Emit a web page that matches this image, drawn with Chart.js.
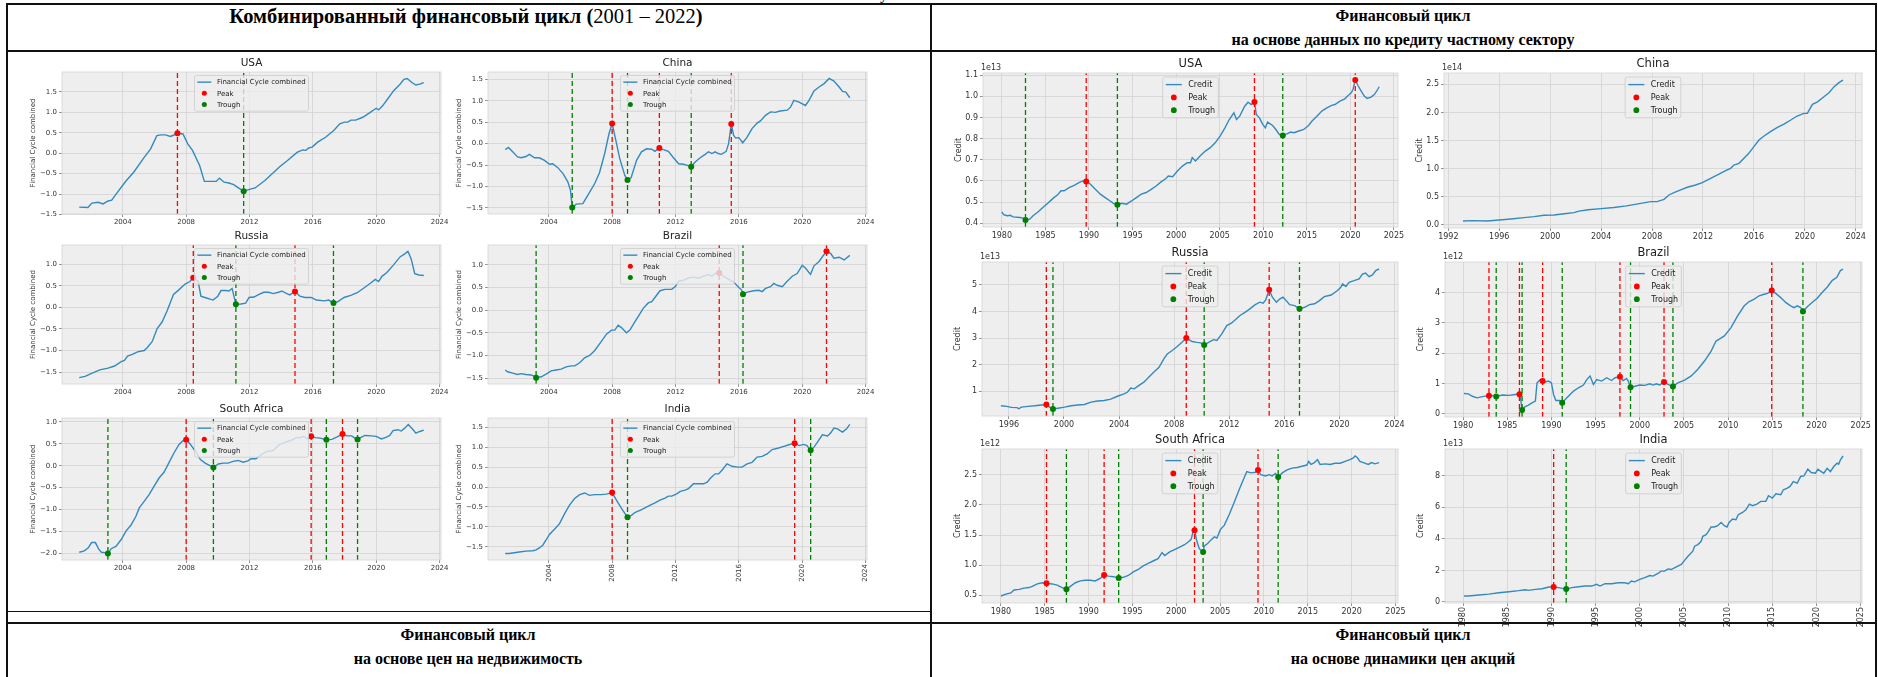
<!DOCTYPE html>
<html>
<head>
<meta charset="utf-8">
<script src="https://cdn.jsdelivr.net/npm/chart.js@4.4.1/dist/chart.umd.min.js"></script>
<style>
  body { margin: 0; background: #fff; }
  #page { position: relative; width: 1878px; height: 677px; overflow: hidden; font-family: "Liberation Serif", "Times New Roman", serif; }
  .hl { position: absolute; background: #111; height: 2px; z-index: 5; }
  .vl { position: absolute; background: #111; width: 2px; z-index: 5; }
  .hdr { position: absolute; font-weight: bold; font-size: 16px; white-space: nowrap; transform: translate(-50%, -50%); color: #000; }
  .hdr span { font-weight: normal; }
  .big { font-size: 20.5px; }
  canvas { position: absolute; }
</style>
</head>
<body>
<div id="page">
  <div class="hdr" style="left:884px;top:-6px;font-weight:normal">у</div>
  <div class="hl" style="left:6px;top:3px;width:1871px"></div>
  <div class="hl" style="left:6px;top:50px;width:1871px"></div>
  <div class="hl" style="left:6px;top:622px;width:1871px"></div>
  <div class="hl" style="left:6px;top:611px;width:924px;height:1px"></div>
  <div class="vl" style="left:6px;top:3px;height:674px"></div>
  <div class="vl" style="left:930px;top:3px;height:674px"></div>
  <div class="vl" style="left:1875px;top:3px;height:674px"></div>

  <div class="hdr big" style="left:466px;top:16px">Комбинированный финансовый цикл (<span>2001 – 2022</span>)</div>
  <div class="hdr" style="left:1403px;top:16px">Финансовый цикл</div>
  <div class="hdr" style="left:1403px;top:40px">на основе данных по кредиту частному сектору</div>
  <div class="hdr" style="left:468px;top:635px">Финансовый цикл</div>
  <div class="hdr" style="left:468px;top:659px">на основе цен на недвижимость</div>
  <div class="hdr" style="left:1403px;top:635px">Финансовый цикл</div>
  <div class="hdr" style="left:1403px;top:659px">на основе динамики цен акций</div>
</div>

<script>
// ---------- data: combined financial cycle (2001 - 2022) ----------
const fcYearTicks = [2004, 2008, 2012, 2016, 2020, 2024];

const usaFc = [[2001.25,-1.32],[2001.8,-1.33],[2002.05,-1.22],[2002.45,-1.2],[2002.76,-1.24],[2003.07,-1.17],[2003.3,-1.15],[2003.6,-0.99],[2004.2,-0.68],[2004.7,-0.46],[2005.35,-0.1],[2005.75,0.1],[2006.15,0.43],[2006.4,0.45],[2006.7,0.45],[2007.0,0.41],[2007.2,0.44],[2007.45,0.49],[2007.8,0.47],[2008.1,0.23],[2008.4,0.07],[2008.85,-0.3],[2009.15,-0.69],[2009.5,-0.69],[2009.9,-0.69],[2010.1,-0.61],[2010.4,-0.71],[2010.7,-0.73],[2011.0,-0.77],[2011.3,-0.85],[2011.63,-0.93],[2011.94,-0.89],[2012.35,-0.85],[2012.97,-0.67],[2013.6,-0.44],[2013.9,-0.33],[2014.4,-0.18],[2015.0,0.02],[2015.35,0.08],[2015.55,0.07],[2015.75,0.13],[2015.95,0.15],[2016.3,0.27],[2016.8,0.39],[2017.3,0.55],[2017.7,0.72],[2018.0,0.76],[2018.2,0.76],[2018.4,0.81],[2018.7,0.81],[2019.15,0.88],[2019.55,0.98],[2020.0,1.1],[2020.15,1.06],[2020.4,1.16],[2020.8,1.37],[2021.1,1.53],[2021.5,1.69],[2021.75,1.81],[2021.95,1.83],[2022.25,1.73],[2022.5,1.67],[2022.75,1.69],[2023.0,1.73]];
const usaFcPeaks = [[2007.45,0.49]];
const usaFcTroughs = [[2011.63,-0.93]];
const usaFcTicksY = [-1.5,-1.0,-0.5,0.0,0.5,1.0,1.5];

const chinaFc = [[2001.25,-0.14],[2001.45,-0.09],[2001.72,-0.19],[2002.03,-0.31],[2002.25,-0.33],[2002.56,-0.3],[2002.77,-0.25],[2003.1,-0.33],[2003.4,-0.33],[2003.73,-0.39],[2004.04,-0.48],[2004.25,-0.47],[2004.57,-0.56],[2004.9,-0.7],[2005.2,-0.89],[2005.37,-1.09],[2005.48,-1.49],[2005.73,-1.41],[2006.15,-1.4],[2006.47,-1.2],[2006.9,-0.93],[2007.2,-0.68],[2007.53,-0.23],[2007.8,0.23],[2008.0,0.47],[2008.23,0.08],[2008.48,-0.35],[2008.8,-0.74],[2008.97,-0.85],[2009.2,-0.79],[2009.54,-0.39],[2009.85,-0.19],[2010.17,-0.12],[2010.5,-0.13],[2010.7,-0.18],[2010.98,-0.1],[2011.23,-0.14],[2011.55,-0.18],[2011.87,-0.33],[2012.2,-0.47],[2012.5,-0.48],[2012.7,-0.5],[2012.99,-0.54],[2013.24,-0.43],[2013.56,-0.33],[2013.87,-0.25],[2014.08,-0.19],[2014.3,-0.23],[2014.5,-0.19],[2014.7,-0.23],[2014.9,-0.25],[2015.2,-0.18],[2015.35,0.0],[2015.52,0.46],[2015.67,0.19],[2015.8,0.13],[2016.0,0.14],[2016.24,0.02],[2016.5,0.14],[2016.83,0.35],[2017.15,0.48],[2017.36,0.53],[2017.68,0.66],[2018.0,0.74],[2018.3,0.73],[2018.6,0.76],[2019.05,0.78],[2019.26,0.85],[2019.47,1.01],[2019.8,0.97],[2020.2,0.89],[2020.43,1.01],[2020.74,1.23],[2021.06,1.32],[2021.38,1.4],[2021.7,1.52],[2022.0,1.46],[2022.33,1.32],[2022.54,1.22],[2022.75,1.2],[2023.0,1.07]];
const chinaFcPeaks = [[2008.0,0.47],[2010.98,-0.1],[2015.52,0.46]];
const chinaFcTroughs = [[2005.48,-1.49],[2008.97,-0.85],[2012.99,-0.54]];
const chinaFcTicksY = [-1.5,-1.0,-0.5,0.0,0.5,1.0,1.5];

const russiaFc = [[2001.25,-1.63],[2001.62,-1.6],[2002.03,-1.53],[2002.55,-1.45],[2003.07,-1.41],[2003.48,-1.36],[2003.9,-1.26],[2004.1,-1.23],[2004.3,-1.13],[2004.6,-1.09],[2004.93,-1.03],[2005.35,-1.0],[2005.55,-0.93],[2005.86,-0.79],[2006.17,-0.49],[2006.48,-0.34],[2006.8,-0.08],[2007.2,0.3],[2007.52,0.4],[2007.93,0.54],[2008.24,0.6],[2008.45,0.69],[2008.76,0.6],[2008.93,0.26],[2009.18,0.23],[2009.7,0.17],[2010.0,0.26],[2010.2,0.39],[2010.5,0.39],[2010.7,0.38],[2010.9,0.44],[2011.14,0.07],[2011.45,0.08],[2011.76,0.1],[2011.97,0.23],[2012.28,0.24],[2012.6,0.3],[2012.9,0.35],[2013.2,0.35],[2013.5,0.32],[2013.83,0.35],[2014.04,0.38],[2014.35,0.32],[2014.55,0.29],[2014.87,0.37],[2015.18,0.26],[2015.5,0.23],[2015.9,0.23],[2016.22,0.17],[2016.73,0.15],[2017.0,0.17],[2017.3,0.1],[2017.56,0.13],[2017.97,0.23],[2018.39,0.28],[2018.8,0.34],[2019.22,0.45],[2019.63,0.56],[2019.94,0.65],[2020.15,0.6],[2020.36,0.72],[2020.67,0.81],[2021.08,0.98],[2021.5,1.17],[2021.8,1.24],[2022.0,1.3],[2022.2,1.13],[2022.43,0.78],[2022.7,0.75],[2023.0,0.74]];
const russiaFcPeaks = [[2008.45,0.69],[2014.87,0.37]];
const russiaFcTroughs = [[2011.14,0.07],[2017.3,0.1]];
const russiaFcTicksY = [-1.5,-1.0,-0.5,0.0,0.5,1.0];

const brazilFc = [[2001.25,-1.32],[2001.4,-1.36],[2001.72,-1.39],[2002.03,-1.42],[2002.25,-1.4],[2002.56,-1.42],[2002.88,-1.43],[2003.1,-1.46],[2003.2,-1.49],[2003.52,-1.47],[2003.83,-1.41],[2004.15,-1.34],[2004.46,-1.32],[2004.78,-1.3],[2005.1,-1.25],[2005.42,-1.23],[2005.64,-1.23],[2005.95,-1.16],[2006.26,-1.05],[2006.58,-1.0],[2006.9,-0.89],[2007.32,-0.69],[2007.64,-0.53],[2007.96,-0.44],[2008.17,-0.44],[2008.38,-0.33],[2008.6,-0.39],[2008.9,-0.5],[2009.12,-0.44],[2009.43,-0.26],[2009.75,-0.08],[2009.96,0.04],[2010.28,0.16],[2010.5,0.19],[2010.7,0.28],[2011.02,0.43],[2011.33,0.46],[2011.76,0.46],[2012.0,0.53],[2012.2,0.64],[2012.5,0.66],[2012.8,0.71],[2013.13,0.73],[2013.45,0.71],[2013.77,0.75],[2014.08,0.79],[2014.3,0.75],[2014.5,0.81],[2014.76,0.82],[2015.03,0.75],[2015.35,0.68],[2015.67,0.62],[2016.0,0.5],[2016.16,0.45],[2016.26,0.35],[2016.52,0.4],[2016.94,0.43],[2017.26,0.44],[2017.47,0.41],[2017.68,0.48],[2018.0,0.52],[2018.2,0.59],[2018.42,0.55],[2018.74,0.52],[2019.05,0.64],[2019.37,0.75],[2019.68,0.81],[2020.0,0.99],[2020.2,0.93],[2020.52,0.79],[2020.74,0.98],[2021.05,1.07],[2021.27,1.18],[2021.53,1.3],[2021.8,1.25],[2022.0,1.15],[2022.33,1.17],[2022.64,1.11],[2023.0,1.21]];
const brazilFcPeaks = [[2014.76,0.82],[2021.53,1.3]];
const brazilFcTroughs = [[2003.2,-1.49],[2016.26,0.35]];
const brazilFcTicksY = [-1.5,-1.0,-0.5,0.0,0.5,1.0];

const saFc = [[2001.25,-1.97],[2001.57,-1.94],[2001.82,-1.87],[2002.03,-1.75],[2002.27,-1.75],[2002.48,-1.9],[2002.65,-1.97],[2002.86,-1.98],[2003.06,-2.0],[2003.27,-1.89],[2003.58,-1.83],[2003.9,-1.68],[2004.2,-1.49],[2004.52,-1.35],[2004.83,-1.15],[2005.04,-0.96],[2005.35,-0.81],[2005.66,-0.66],[2005.97,-0.47],[2006.29,-0.28],[2006.6,-0.15],[2006.9,0.06],[2007.23,0.29],[2007.54,0.48],[2007.8,0.57],[2008.0,0.59],[2008.26,0.49],[2008.58,0.33],[2008.9,0.14],[2009.2,0.06],[2009.5,0.0],[2009.72,-0.04],[2010.03,0.04],[2010.34,0.06],[2010.65,0.06],[2010.96,0.1],[2011.28,0.12],[2011.6,0.08],[2011.9,0.11],[2012.1,0.16],[2012.4,0.16],[2012.73,0.25],[2013.15,0.33],[2013.46,0.34],[2013.88,0.48],[2014.3,0.54],[2014.7,0.59],[2015.0,0.65],[2015.12,0.63],[2015.43,0.67],[2015.64,0.61],[2015.89,0.67],[2016.16,0.64],[2016.47,0.63],[2016.85,0.59],[2017.2,0.6],[2017.5,0.65],[2017.87,0.72],[2018.14,0.68],[2018.45,0.68],[2018.65,0.63],[2018.82,0.6],[2019.07,0.65],[2019.28,0.69],[2019.7,0.68],[2020.0,0.67],[2020.33,0.61],[2020.65,0.65],[2020.85,0.69],[2021.06,0.8],[2021.37,0.82],[2021.57,0.79],[2021.78,0.85],[2022.02,0.94],[2022.3,0.83],[2022.5,0.74],[2022.75,0.78],[2023.0,0.81]];
const saFcPeaks = [[2008.0,0.59],[2015.89,0.67],[2017.87,0.72]];
const saFcTroughs = [[2003.06,-2.0],[2009.72,-0.04],[2016.85,0.59],[2018.82,0.6]];
const saFcTicksY = [-2.0,-1.5,-1.0,-0.5,0.0,0.5,1.0];

const indiaFc = [[2001.25,-1.67],[2001.5,-1.67],[2001.82,-1.65],[2002.14,-1.63],[2002.56,-1.61],[2003.0,-1.6],[2003.2,-1.58],[2003.4,-1.53],[2003.62,-1.46],[2003.83,-1.33],[2004.04,-1.19],[2004.36,-1.06],[2004.68,-0.92],[2005.0,-0.67],[2005.3,-0.46],[2005.63,-0.29],[2005.95,-0.19],[2006.26,-0.15],[2006.58,-0.21],[2006.9,-0.19],[2007.3,-0.19],[2007.64,-0.18],[2008.0,-0.14],[2008.27,-0.33],[2008.6,-0.54],[2008.97,-0.76],[2009.22,-0.71],[2009.43,-0.64],[2009.86,-0.57],[2010.28,-0.48],[2010.7,-0.4],[2011.02,-0.33],[2011.34,-0.28],[2011.55,-0.23],[2011.76,-0.23],[2012.08,-0.17],[2012.3,-0.11],[2012.6,-0.08],[2012.82,-0.04],[2013.13,0.08],[2013.45,0.08],[2013.77,0.08],[2014.0,0.12],[2014.2,0.22],[2014.5,0.33],[2014.72,0.33],[2014.93,0.42],[2015.25,0.58],[2015.56,0.52],[2015.9,0.5],[2016.2,0.5],[2016.52,0.58],[2016.83,0.62],[2017.15,0.75],[2017.47,0.77],[2017.78,0.83],[2018.1,0.94],[2018.5,0.98],[2018.84,1.02],[2019.16,1.06],[2019.52,1.1],[2019.8,1.04],[2020.1,1.07],[2020.3,1.04],[2020.53,0.92],[2020.74,1.0],[2020.95,1.12],[2021.27,1.31],[2021.6,1.28],[2021.8,1.36],[2022.0,1.48],[2022.22,1.46],[2022.54,1.38],[2022.8,1.46],[2023.0,1.57]];
const indiaFcPeaks = [[2008.0,-0.14],[2019.52,1.1]];
const indiaFcTroughs = [[2008.97,-0.76],[2020.53,0.92]];
const indiaFcTicksY = [-1.5,-1.0,-0.5,0.0,0.5,1.0,1.5];

// ---------- data: private sector credit (values in units of the offset shown on the axis) ----------
const creditYearTicks = [1980, 1985, 1990, 1995, 2000, 2005, 2010, 2015, 2020, 2025];

const usaCredit = [[1980.0,0.453],[1980.2,0.44],[1980.6,0.435],[1980.95,0.437],[1981.3,0.43],[1982.07,0.427],[1982.45,0.424],[1982.71,0.415],[1983.2,0.419],[1983.58,0.435],[1984.14,0.453],[1984.7,0.474],[1985.27,0.494],[1985.84,0.516],[1986.4,0.534],[1986.78,0.553],[1987.15,0.553],[1987.72,0.568],[1988.29,0.579],[1988.85,0.592],[1989.3,0.6],[1989.68,0.597],[1990.17,0.584],[1990.73,0.56],[1991.3,0.537],[1991.86,0.521],[1992.43,0.505],[1992.8,0.494],[1993.26,0.487],[1993.75,0.494],[1994.3,0.49],[1994.88,0.505],[1995.44,0.521],[1996.0,0.537],[1996.57,0.545],[1997.14,0.56],[1997.7,0.576],[1998.27,0.595],[1998.83,0.611],[1999.1,0.623],[1999.6,0.62],[2000.15,0.647],[2000.72,0.67],[2001.28,0.686],[2001.65,0.686],[2001.85,0.71],[2002.22,0.694],[2002.8,0.72],[2003.35,0.741],[2003.92,0.757],[2004.48,0.78],[2005.05,0.812],[2005.6,0.851],[2006.1,0.89],[2006.63,0.922],[2006.93,0.89],[2007.3,0.906],[2007.87,0.953],[2008.25,0.972],[2008.62,0.961],[2008.99,0.973],[2009.2,0.914],[2009.56,0.898],[2009.94,0.867],[2010.24,0.851],[2010.5,0.878],[2011.07,0.862],[2011.45,0.843],[2011.83,0.82],[2012.24,0.814],[2012.77,0.823],[2013.15,0.831],[2013.53,0.828],[2014.08,0.836],[2014.65,0.843],[2015.2,0.862],[2015.6,0.883],[2016.16,0.906],[2016.72,0.93],[2017.3,0.945],[2017.85,0.957],[2018.23,0.961],[2018.8,0.977],[2019.36,0.988],[2019.74,1.004],[2020.1,1.016],[2020.3,1.032],[2020.56,1.077],[2020.87,1.051],[2021.24,1.024],[2021.62,1.0],[2021.92,0.99],[2022.37,0.996],[2022.75,1.008],[2023.13,1.032],[2023.3,1.045]];
const usaCreditPeaks = [[1989.68,0.597],[2008.99,0.973],[2020.56,1.077]];
const usaCreditTroughs = [[1982.71,0.415],[1993.26,0.487],[2012.24,0.814]];
const usaCreditTicksY = [0.4,0.5,0.6,0.7,0.8,0.9,1.0,1.1];

const chinaCredit = [[1993.15,0.071],[1993.9,0.077],[1995.06,0.071],[1996.0,0.089],[1996.9,0.107],[1997.94,0.13],[1998.73,0.148],[1999.5,0.172],[2000.3,0.178],[2001.1,0.2],[2001.87,0.22],[2002.26,0.245],[2003.0,0.27],[2004.0,0.29],[2005.0,0.31],[2006.0,0.34],[2007.0,0.38],[2007.9,0.415],[2008.4,0.415],[2008.94,0.456],[2009.33,0.533],[2009.72,0.575],[2010.25,0.622],[2010.77,0.67],[2011.42,0.711],[2011.95,0.752],[2012.6,0.83],[2013.26,0.906],[2013.78,0.966],[2014.17,1.007],[2014.43,1.066],[2014.83,1.096],[2015.22,1.185],[2015.6,1.274],[2016.0,1.392],[2016.4,1.51],[2016.8,1.582],[2017.3,1.659],[2017.85,1.736],[2018.36,1.795],[2018.9,1.866],[2019.4,1.937],[2019.93,1.985],[2020.2,1.985],[2020.6,2.145],[2021.0,2.19],[2021.5,2.28],[2021.9,2.35],[2022.3,2.46],[2022.68,2.53],[2023.0,2.577]];
const chinaCreditPeaks = [];
const chinaCreditTroughs = [];
const chinaCreditTicksX = [1992, 1996, 2000, 2004, 2008, 2012, 2016, 2020, 2024];
const chinaCreditTicksY = [0.0,0.5,1.0,1.5,2.0,2.5];

const russiaCredit = [[1995.42,0.45],[1995.83,0.43],[1996.2,0.39],[1996.6,0.38],[1996.72,0.34],[1996.9,0.4],[1997.4,0.43],[1997.87,0.45],[1998.36,0.48],[1998.72,0.5],[1998.96,0.4],[1999.2,0.33],[1999.56,0.36],[2000.04,0.4],[2000.52,0.45],[2001.0,0.48],[2001.48,0.5],[2001.96,0.59],[2002.44,0.63],[2002.92,0.65],[2003.4,0.7],[2003.88,0.81],[2004.36,0.9],[2004.6,0.96],[2004.85,1.12],[2005.1,1.09],[2005.45,1.22],[2005.8,1.34],[2006.17,1.53],[2006.53,1.72],[2006.9,1.9],[2007.25,2.22],[2007.5,2.4],[2007.86,2.53],[2008.22,2.68],[2008.57,2.84],[2008.88,3.0],[2009.3,2.87],[2009.65,2.84],[2009.94,2.82],[2010.18,2.74],[2010.5,2.84],[2010.86,2.94],[2011.1,2.91],[2011.46,3.16],[2011.82,3.47],[2012.18,3.57],[2012.42,3.68],[2012.78,3.85],[2013.14,3.97],[2013.5,4.1],[2013.86,4.25],[2014.22,4.35],[2014.46,4.31],[2014.65,4.44],[2014.9,4.82],[2015.13,4.54],[2015.42,4.35],[2015.66,4.47],[2015.9,4.54],[2016.14,4.41],[2016.38,4.26],[2016.75,4.22],[2017.1,4.1],[2017.47,4.16],[2017.83,4.26],[2018.2,4.29],[2018.55,4.41],[2018.9,4.56],[2019.4,4.62],[2019.86,4.79],[2020.1,4.91],[2020.23,5.04],[2020.47,4.94],[2020.7,5.1],[2021.06,5.16],[2021.43,5.23],[2021.67,5.41],[2021.9,5.45],[2022.15,5.31],[2022.4,5.38],[2022.63,5.54],[2022.88,5.6]];
const russiaCreditPeaks = [[1998.72,0.5],[2008.88,3.0],[2014.9,4.82]];
const russiaCreditTroughs = [[1999.2,0.33],[2010.18,2.74],[2017.1,4.1]];
const russiaCreditTicksX = [1996, 2000, 2004, 2008, 2012, 2016, 2020, 2024];
const russiaCreditTicksY = [1,2,3,4,5];

const brazilCredit = [[1980.1,0.67],[1980.6,0.66],[1981.05,0.58],[1981.6,0.53],[1982.18,0.57],[1982.93,0.6],[1983.3,0.6],[1983.75,0.57],[1984.43,0.62],[1985.18,0.61],[1985.93,0.64],[1986.38,0.65],[1986.5,0.53],[1986.68,0.13],[1986.98,0.23],[1987.35,0.28],[1987.8,0.36],[1988.18,0.42],[1988.37,1.02],[1988.74,1.13],[1989.0,1.08],[1989.3,1.05],[1989.68,1.08],[1990.0,1.02],[1990.24,0.64],[1990.5,0.44],[1990.9,0.44],[1991.22,0.37],[1991.75,0.53],[1992.12,0.64],[1992.5,0.75],[1993.06,0.86],[1993.62,0.95],[1994.0,1.13],[1994.37,1.25],[1994.75,0.97],[1995.12,1.13],[1995.68,1.08],[1996.25,1.19],[1996.8,1.1],[1997.19,1.19],[1997.75,1.22],[1998.12,1.1],[1998.5,1.17],[1998.69,1.08],[1998.95,0.88],[1999.43,0.91],[2000.0,0.95],[2000.56,0.94],[2001.13,0.99],[2001.5,0.95],[2001.88,0.99],[2002.25,0.95],[2002.74,1.05],[2003.19,0.97],[2003.75,0.9],[2004.3,1.02],[2005.07,1.11],[2005.82,1.25],[2006.57,1.47],[2007.32,1.74],[2008.07,2.07],[2008.63,2.4],[2009.0,2.46],[2009.57,2.57],[2010.32,2.84],[2011.07,3.23],[2011.82,3.56],[2012.38,3.7],[2012.95,3.78],[2013.5,3.89],[2014.07,3.94],[2014.45,3.97],[2014.93,4.06],[2015.38,3.97],[2015.95,3.83],[2016.5,3.67],[2017.07,3.56],[2017.45,3.5],[2017.82,3.56],[2018.2,3.5],[2018.46,3.37],[2018.95,3.53],[2019.5,3.67],[2020.07,3.81],[2020.63,4.0],[2021.2,4.17],[2021.76,4.39],[2022.3,4.5],[2022.7,4.72],[2023.0,4.77]];
const brazilCreditPeaks = [[1982.93,0.6],[1986.38,0.65],[1989.0,1.08],[1997.75,1.22],[2002.74,1.05],[2014.93,4.06]];
const brazilCreditTroughs = [[1983.75,0.57],[1986.68,0.13],[1991.22,0.37],[1998.95,0.88],[2003.75,0.9],[2018.46,3.37]];
const brazilCreditTicksY = [0,1,2,3,4];

const saCredit = [[1980.0,0.49],[1980.57,0.52],[1981.13,0.54],[1981.5,0.59],[1982.08,0.6],[1982.64,0.62],[1983.2,0.63],[1983.58,0.65],[1984.15,0.69],[1984.7,0.71],[1985.2,0.7],[1985.85,0.69],[1986.42,0.67],[1986.98,0.63],[1987.47,0.6],[1987.92,0.65],[1988.5,0.71],[1989.06,0.74],[1989.62,0.75],[1990.19,0.75],[1990.75,0.74],[1991.32,0.78],[1991.77,0.84],[1992.26,0.82],[1992.83,0.81],[1993.43,0.79],[1993.96,0.8],[1994.53,0.83],[1995.1,0.89],[1995.66,0.93],[1996.23,0.99],[1996.8,1.03],[1997.36,1.07],[1997.92,1.11],[1998.38,1.21],[1998.68,1.16],[1999.25,1.22],[1999.8,1.26],[2000.38,1.3],[2000.94,1.34],[2001.32,1.38],[2001.7,1.43],[2001.89,1.54],[2002.08,1.58],[2002.34,1.4],[2002.64,1.27],[2003.06,1.22],[2003.2,1.32],[2003.58,1.36],[2003.96,1.42],[2004.34,1.47],[2004.64,1.45],[2005.02,1.59],[2005.47,1.66],[2006.04,1.84],[2006.6,2.04],[2007.17,2.25],[2007.74,2.45],[2008.04,2.55],[2008.5,2.53],[2009.06,2.54],[2009.32,2.58],[2009.62,2.5],[2010.2,2.48],[2010.57,2.5],[2010.94,2.48],[2011.32,2.52],[2011.62,2.46],[2012.08,2.53],[2012.64,2.58],[2013.2,2.61],[2013.77,2.62],[2014.34,2.64],[2014.9,2.66],[2015.1,2.72],[2015.36,2.67],[2015.66,2.69],[2016.1,2.75],[2016.4,2.67],[2017.0,2.68],[2017.55,2.67],[2018.1,2.69],[2018.7,2.69],[2019.25,2.72],[2019.8,2.75],[2020.2,2.78],[2020.4,2.81],[2020.66,2.78],[2020.95,2.72],[2021.33,2.7],[2021.9,2.67],[2022.26,2.7],[2022.64,2.68],[2023.13,2.7]];
const saCreditPeaks = [[1985.2,0.7],[1991.77,0.84],[2002.08,1.58],[2009.32,2.58]];
const saCreditTroughs = [[1987.47,0.6],[1993.43,0.79],[2003.06,1.22],[2011.62,2.46]];
const saCreditTicksY = [0.5,1.0,1.5,2.0,2.5];

const indiaCredit = [[1980.1,0.38],[1980.6,0.38],[1981.8,0.44],[1982.9,0.5],[1984.05,0.59],[1985.2,0.65],[1986.3,0.72],[1987.05,0.78],[1987.4,0.74],[1988.2,0.8],[1988.95,0.84],[1989.7,0.95],[1990.25,0.95],[1990.8,0.91],[1991.25,0.86],[1991.67,0.82],[1992.3,0.91],[1993.06,0.97],[1993.8,1.01],[1994.56,1.01],[1995.1,1.12],[1995.5,1.01],[1996.06,1.16],[1996.8,1.16],[1997.55,1.22],[1998.3,1.22],[1998.7,1.16],[1999.05,1.33],[1999.4,1.28],[2000.0,1.43],[2000.56,1.54],[2001.13,1.68],[2001.5,1.64],[2002.06,1.81],[2002.4,1.96],[2002.8,1.96],[2003.2,2.1],[2003.55,2.06],[2004.13,2.23],[2004.7,2.38],[2005.0,2.59],[2005.45,2.9],[2006.0,3.22],[2006.2,3.54],[2006.57,3.64],[2006.94,3.85],[2007.13,4.17],[2007.5,4.27],[2007.77,4.48],[2008.07,4.76],[2008.44,4.76],[2008.82,4.84],[2009.2,5.05],[2009.56,4.84],[2009.87,4.76],[2010.1,5.05],[2010.5,5.26],[2010.88,5.22],[2011.14,5.54],[2011.63,5.68],[2012.0,5.85],[2012.4,6.21],[2012.76,6.11],[2013.25,6.21],[2013.7,6.38],[2014.26,6.38],[2014.56,6.74],[2015.0,6.59],[2015.4,6.86],[2015.95,6.8],[2016.25,7.12],[2016.7,7.22],[2017.0,7.33],[2017.37,7.64],[2017.82,7.54],[2018.2,7.96],[2018.57,8.0],[2019.02,8.42],[2019.4,8.21],[2019.88,8.17],[2020.15,8.42],[2020.53,8.27],[2020.82,8.17],[2021.2,8.48],[2021.57,8.27],[2021.95,8.59],[2022.33,8.8],[2022.5,8.74],[2022.7,9.01],[2023.0,9.26]];
const indiaCreditPeaks = [[1990.25,0.95]];
const indiaCreditTroughs = [[1991.67,0.82]];
const indiaCreditTicksY = [0,2,4,6,8];

// ---------- styles for the two groups of subplots ----------
const BLUE = "#348ABD";
const PEAK = "#ff0000";
const TROUGH = "#008000";
const FONT = '"DejaVu Sans", sans-serif';

const groupStyle = {
  fc:     { label: "Financial Cycle combined", yTitle: "Financial Cycle combined", titleSize: 10.5, tick: 7, legend: 7, L: 34, T: 22, R: 12, B: 14 },
  credit: { label: "Credit", yTitle: "Credit", titleSize: 11.5, tick: 8, legend: 8, L: 30, T: 22, R: 12, B: 15 }
};

// box = plot area [left, top, right, bottom] on the page
const charts = [
  { title: "USA", group: "fc", line: usaFc, peaks: usaFcPeaks, troughs: usaFcTroughs, xTicks: fcYearTicks, yTicks: usaFcTicksY, dec: 1, box: [62, 72, 441, 214] },
  { title: "China", group: "fc", line: chinaFc, peaks: chinaFcPeaks, troughs: chinaFcTroughs, xTicks: fcYearTicks, yTicks: chinaFcTicksY, dec: 1, box: [488, 72, 867, 214] },
  { title: "Russia", group: "fc", line: russiaFc, peaks: russiaFcPeaks, troughs: russiaFcTroughs, xTicks: fcYearTicks, yTicks: russiaFcTicksY, dec: 1, box: [62, 245, 441, 384] },
  { title: "Brazil", group: "fc", line: brazilFc, peaks: brazilFcPeaks, troughs: brazilFcTroughs, xTicks: fcYearTicks, yTicks: brazilFcTicksY, dec: 1, box: [488, 245, 867, 384] },
  { title: "South Africa", group: "fc", line: saFc, peaks: saFcPeaks, troughs: saFcTroughs, xTicks: fcYearTicks, yTicks: saFcTicksY, dec: 1, box: [62, 418, 441, 560] },
  { title: "India", group: "fc", line: indiaFc, peaks: indiaFcPeaks, troughs: indiaFcTroughs, xTicks: fcYearTicks, yTicks: indiaFcTicksY, dec: 1, box: [488, 418, 867, 560], rot: 90 },

  { title: "USA", group: "credit", line: usaCredit, peaks: usaCreditPeaks, troughs: usaCreditTroughs, xTicks: creditYearTicks, yTicks: usaCreditTicksY, dec: 1, offset: "1e13", box: [983, 73, 1398, 227] },
  { title: "China", group: "credit", line: chinaCredit, peaks: chinaCreditPeaks, troughs: chinaCreditTroughs, xTicks: chinaCreditTicksX, yTicks: chinaCreditTicksY, dec: 1, offset: "1e14", box: [1444, 73, 1862, 228] },
  { title: "Russia", group: "credit", line: russiaCredit, peaks: russiaCreditPeaks, troughs: russiaCreditTroughs, xTicks: russiaCreditTicksX, yTicks: russiaCreditTicksY, dec: 0, offset: "1e13", box: [982, 262, 1398, 416] },
  { title: "Brazil", group: "credit", line: brazilCredit, peaks: brazilCreditPeaks, troughs: brazilCreditTroughs, xTicks: creditYearTicks, yTicks: brazilCreditTicksY, dec: 0, offset: "1e12", box: [1445, 262, 1862, 417] },
  { title: "South Africa", group: "credit", line: saCredit, peaks: saCreditPeaks, troughs: saCreditTroughs, xTicks: creditYearTicks, yTicks: saCreditTicksY, dec: 1, offset: "1e12", box: [982, 449, 1398, 603] },
  { title: "India", group: "credit", line: indiaCredit, peaks: indiaCreditPeaks, troughs: indiaCreditTroughs, xTicks: creditYearTicks, yTicks: indiaCreditTicksY, dec: 0, offset: "1e13", box: [1445, 449, 1862, 603], rot: 90 }
];

// grey axes background + faint frame + offset text
const axesBg = {
  id: "axesBg",
  beforeDraw(chart) {
    const a = chart.chartArea, ctx = chart.ctx;
    ctx.save();
    ctx.fillStyle = "#eeeeee";
    ctx.fillRect(a.left, a.top, a.right - a.left, a.bottom - a.top);
    ctx.restore();
  },
  afterDraw(chart, args, o) {
    const a = chart.chartArea, ctx = chart.ctx;
    ctx.save();
    ctx.strokeStyle = "#d4d4d4";
    ctx.lineWidth = 0.8;
    ctx.strokeRect(a.left, a.top, a.right - a.left, a.bottom - a.top);
    if (o.offset) {
      ctx.fillStyle = "#333";
      ctx.font = o.size + "px " + FONT;
      ctx.textAlign = "left";
      ctx.textBaseline = "bottom";
      ctx.fillText(o.offset, a.left - 2, a.top - 1);
    }
    ctx.restore();
  }
};

// matplotlib-like legend, upper center inside the axes
const mplLegend = {
  id: "mplLegend",
  afterDatasetsDraw(chart, args, o) {
    const ctx = chart.ctx, a = chart.chartArea, f = o.size;
    const labels = [o.label, "Peak", "Trough"];
    ctx.save();
    ctx.font = f + "px " + FONT;
    const tw = Math.max(...labels.map(t => ctx.measureText(t).width));
    const pad = 0.4 * f, hl = 2 * f, gap = 0.8 * f, rowH = 1.1 * f, sp = 0.5 * f;
    const w = 2 * pad + hl + gap + tw;
    const h = 2 * pad + 3 * rowH + 2 * sp;
    const x0 = (a.left + a.right) / 2 - w / 2;
    const y0 = a.top + 0.5 * f;
    ctx.beginPath();
    ctx.roundRect(x0, y0, w, h, 2);
    ctx.fillStyle = "rgba(238,238,238,0.8)";
    ctx.fill();
    ctx.strokeStyle = "#cccccc";
    ctx.lineWidth = 0.8;
    ctx.stroke();
    labels.forEach((t, i) => {
      const cy = y0 + pad + rowH / 2 + i * (rowH + sp);
      const hx = x0 + pad;
      if (i === 0) {
        ctx.strokeStyle = BLUE;
        ctx.lineWidth = 1.4;
        ctx.beginPath();
        ctx.moveTo(hx, cy);
        ctx.lineTo(hx + hl, cy);
        ctx.stroke();
      } else {
        ctx.fillStyle = i === 1 ? PEAK : TROUGH;
        ctx.beginPath();
        ctx.arc(hx + hl / 2, cy, f * 0.36, 0, Math.PI * 2);
        ctx.fill();
      }
      ctx.fillStyle = "#222";
      ctx.textAlign = "left";
      ctx.textBaseline = "middle";
      ctx.fillText(t, hx + hl + gap, cy + 0.5);
    });
    ctx.restore();
  }
};

function withMargin(vals) {
  const lo = Math.min(...vals), hi = Math.max(...vals), m = (hi - lo) * 0.05;
  return [lo - m, hi + m];
}

function fmt(v, dec) {
  const s = Number(v).toFixed(dec);
  return s.startsWith("-") ? "\u2212" + s.slice(1) : s;
}

const page = document.getElementById("page");

charts.forEach(c => {
  const g = groupStyle[c.group];
  const B = c.rot ? 28 : g.B;
  const [l, t, r, b] = c.box;
  const W = r - l + g.L + g.R, H = b - t + g.T + B;

  const cv = document.createElement("canvas");
  cv.width = W; cv.height = H;
  cv.style.left = (l - g.L) + "px";
  cv.style.top = (t - g.T) + "px";
  cv.style.width = W + "px";
  cv.style.height = H + "px";
  page.appendChild(cv);

  const all = c.line.concat(c.peaks, c.troughs);
  const [xMin, xMax] = withMargin(all.map(p => p[0]));
  const [yMin, yMax] = withMargin(all.map(p => p[1]));

  const datasets = [{
    data: c.line.map(p => ({ x: p[0], y: p[1] })),
    borderColor: BLUE, borderWidth: 1.4, pointRadius: 0, tension: 0, order: 3
  }];
  const vline = (p, color) => ({
    data: [{ x: p[0], y: yMin }, { x: p[0], y: yMax }],
    borderColor: color, borderWidth: 1.3, borderDash: [5, 3], pointRadius: 0, order: 2
  });
  c.peaks.forEach(p => datasets.push(vline(p, PEAK)));
  c.troughs.forEach(p => datasets.push(vline(p, TROUGH)));
  datasets.push({
    data: c.peaks.map(p => ({ x: p[0], y: p[1] })),
    showLine: false, pointRadius: 3, pointBackgroundColor: PEAK, pointBorderWidth: 0, order: 1
  });
  datasets.push({
    data: c.troughs.map(p => ({ x: p[0], y: p[1] })),
    showLine: false, pointRadius: 3, pointBackgroundColor: TROUGH, pointBorderWidth: 0, order: 1
  });

  const titlePb = 8.5 - 0.6 * g.titleSize;
  const titlePt = g.T - 1.2 * g.titleSize - titlePb;

  new Chart(cv.getContext("2d"), {
    type: "line",
    data: { datasets },
    options: {
      responsive: false,
      animation: false,
      devicePixelRatio: 1,
      layout: { padding: { left: 0, top: 0, right: g.R, bottom: 0 } },
      plugins: {
        legend: { display: false },
        tooltip: { enabled: false },
        title: {
          display: true, text: c.title, fullSize: false, color: "#222",
          font: { family: FONT, size: g.titleSize, weight: "normal" },
          padding: { top: titlePt, bottom: titlePb }
        },
        mplLegend: { label: g.label, size: g.legend },
        axesBg: { offset: c.offset, size: g.tick }
      },
      scales: {
        x: {
          type: "linear", min: xMin, max: xMax,
          afterBuildTicks: s => { s.ticks = c.xTicks.map(v => ({ value: v })); },
          afterFit: s => { s.height = B; },
          ticks: {
            autoSkip: false, maxRotation: c.rot || 0, minRotation: c.rot || 0, padding: 1,
            color: "#333", font: { family: FONT, size: g.tick },
            callback: v => String(v)
          },
          grid: { color: "#d2d2d2", lineWidth: 0.8, tickLength: 3, tickColor: "#777" },
          border: { display: false }
        },
        y: {
          type: "linear", min: yMin, max: yMax,
          afterBuildTicks: s => { s.ticks = c.yTicks.map(v => ({ value: v })); },
          afterFit: s => { s.width = g.L; },
          ticks: {
            autoSkip: false, padding: 2, color: "#333", font: { family: FONT, size: g.tick },
            callback: v => fmt(v, c.dec)
          },
          grid: { color: "#d2d2d2", lineWidth: 0.8, tickLength: 3, tickColor: "#777" },
          border: { display: false },
          title: {
            display: true, text: g.yTitle, color: "#333",
            font: { family: FONT, size: g.tick }, padding: { top: 1, bottom: 0 }
          }
        }
      }
    },
    plugins: [axesBg, mplLegend]
  });
});
</script>
</body>
</html>
